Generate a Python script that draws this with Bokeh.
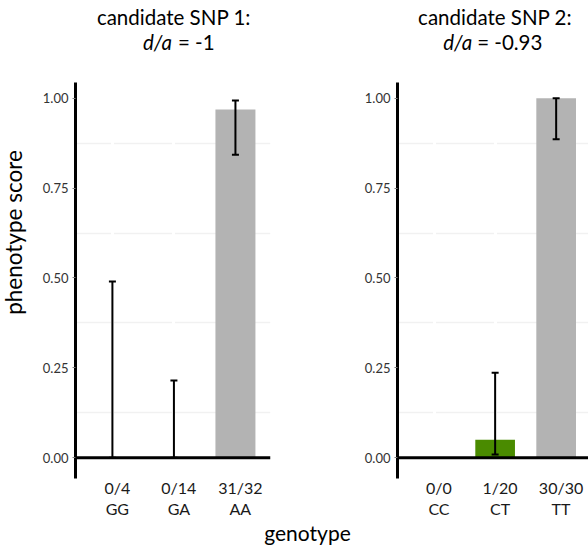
import math
from bokeh.plotting import figure
from bokeh.models import (Range1d, FixedTicker, LinearAxis, Span, Whisker,
                          TeeHead, ColumnDataSource, Grid)
from bokeh.core.properties import value
from bokeh.layouts import row, column
from bokeh.embed import file_html
from bokeh.resources import INLINE

FONT = "Lato"
nan = float("nan")

# ---- data ----
titles = ["candidate SNP 1:", "candidate SNP 2:"]
da_values = ["-1", "-0.93"]

genotypes_1 = ["GG", "GA", "AA"]
counts_1 = ["0/4", "0/14", "31/32"]
score_1 = [0.0, 0.0, 0.969]
lower_1 = [0.0, 0.0, 0.843]
upper_1 = [0.49, 0.215, 0.994]
colors_1 = ["#b3b3b3", "#b3b3b3", "#b3b3b3"]

genotypes_2 = ["CC", "CT", "TT"]
counts_2 = ["0/0", "1/20", "30/30"]
score_2 = [nan, 0.05, 1.0]
lower_2 = [nan, 0.009, 0.886]
upper_2 = [nan, 0.236, 1.0]
colors_2 = ["#b3b3b3", "#4a8b00", "#b3b3b3"]

y_ticks = [0.0, 0.25, 0.5, 0.75, 1.0]
y_tick_labels = ["0.00", "0.25", "0.50", "0.75", "1.00"]
y_minor = [0.125, 0.375, 0.625, 0.875]

x_label = "genotype"
y_label = "phenotype score"

# ---- layout (pixels) ----
TOP_H = 82      # title strip height
PANEL_H = 438   # panel figure height
BOT_H = 26      # bottom strip height
YLAB_W = 30
FRAME_H = 401
LABEL_SHIFT = 0.08
TXT_CORR = 9    # empirical baseline correction for text glyphs


def helper(width, height, x_range=None, left=0, right=0):
    f = figure(width=width, height=height, output_backend="svg", toolbar_location=None,
               title=None,
               x_range=x_range if x_range is not None else Range1d(0, width),
               y_range=Range1d(0, height), x_axis_location=None, y_axis_location=None,
               min_border=0, min_border_left=left, min_border_right=right,
               min_border_top=0, min_border_bottom=0)
    f.outline_line_color = None
    f.grid.visible = False
    return f


def build(title, da, genos, counts, score, lower, upper, colors,
          width, left, right, x_end, da_split):
    n = len(genos)
    xs = [i + 1 for i in range(n)]
    xr = Range1d(0.4, x_end)
    p = figure(width=width, height=PANEL_H, x_range=xr, title=None,
               y_range=Range1d(-0.058, 1.044), output_backend="svg",
               toolbar_location=None, x_axis_location=None,
               min_border_left=left, min_border_right=right,
               min_border_top=0, min_border_bottom=PANEL_H - FRAME_H)
    p.outline_line_color = None
    p.background_fill_color = "white"

    ya = p.yaxis[0]
    ya.ticker = FixedTicker(ticks=y_ticks, minor_ticks=y_minor)
    ya.major_label_overrides = {t: l for t, l in zip(y_ticks, y_tick_labels)}
    ya.axis_line_width = 3
    ya.axis_line_color = "black"
    ya.major_tick_line_color = "#7f7f7f"
    ya.major_tick_out = 3
    ya.major_tick_in = 0
    ya.minor_tick_line_color = None
    ya.major_label_text_font = FONT
    ya.major_label_text_font_size = "13px"
    ya.major_label_text_color = "#333333"
    ya.major_label_standoff = 3

    p.xgrid.visible = False
    p.ygrid.ticker = FixedTicker(ticks=y_ticks, minor_ticks=y_minor)
    p.ygrid.grid_line_color = None
    p.ygrid.minor_grid_line_color = "#f1f1f1"
    p.ygrid.minor_grid_line_width = 1.5
    p.add_layout(Grid(dimension=0, ticker=FixedTicker(ticks=xs),
                      grid_line_color="white", grid_line_width=3))

    tick_pos = [x + LABEL_SHIFT for x in xs]
    for labels in (counts, genos):
        ax = LinearAxis(ticker=FixedTicker(ticks=tick_pos),
                        major_label_overrides={t: l for t, l in zip(tick_pos, labels)},
                        axis_line_color=None, major_tick_line_color=None,
                        major_tick_out=0, major_tick_in=0,
                        minor_tick_line_color=None, minor_tick_out=0, minor_tick_in=0,
                        major_label_standoff=-1,
                        major_label_text_font=FONT,
                        major_label_text_font_size="16px",
                        major_label_text_color="#1a1a1a")
        p.add_layout(ax, "below")

    src = ColumnDataSource(dict(x=xs, score=score, lower=lower, upper=upper, color=colors))
    p.vbar(x="x", top="score", bottom=0, width=0.65, fill_color="color",
           line_color=None, source=src)
    p.add_layout(Whisker(base="x", lower="lower", upper="upper", source=src,
                         line_width=2, line_color="black", level="overlay",
                         upper_head=TeeHead(size=7, line_width=2, line_color="black"),
                         lower_head=TeeHead(size=7, line_width=2, line_color="black")))
    p.add_layout(Span(location=0, dimension="width", line_color="black",
                      line_width=3, level="overlay"))

    # title strip sharing the panel's x range
    t = helper(width, TOP_H, x_range=xr, left=left, right=right)
    mid = xs[n // 2]
    t.text(x=[mid], y=[TOP_H - 25 + TXT_CORR], text=[title], text_align="center",
           text_baseline="alphabetic", text_font=value(FONT),
           text_font_size="20.5px", text_color="black")
    t.text(x=[mid], y=[TOP_H - 50 + TXT_CORR], text=["d/a"], x_offset=da_split[0],
           text_align="right", text_baseline="alphabetic", text_font=value(FONT),
           text_font_style="italic", text_font_size="20.5px", text_color="black")
    t.text(x=[mid], y=[TOP_H - 50 + TXT_CORR], text=["= " + da], x_offset=da_split[1],
           text_align="left", text_baseline="alphabetic", text_font=value(FONT),
           text_font_size="20.5px", text_color="black")
    return column(t, p, spacing=0)


c1 = build(titles[0], da_values[0], genotypes_1, counts_1, score_1, lower_1, upper_1,
           colors_1, width=320, left=45, right=80, x_end=3.57, da_split=(-2, 4))
c2 = build(titles[1], da_values[1], genotypes_2, counts_2, score_2, lower_2, upper_2,
           colors_2, width=238, left=47, right=0, x_end=3.53, da_split=(-23, -18))

ylab = helper(YLAB_W, TOP_H + PANEL_H)
ylab.text(x=[22 - TXT_CORR], y=[TOP_H + PANEL_H - 232], text=[y_label], angle=math.pi / 2,
          text_align="center", text_baseline="middle", text_font=value(FONT),
          text_font_size="22.5px", text_color="black")

bottom = helper(YLAB_W + 320 + 238, BOT_H)
bottom.text(x=[307], y=[5 + TXT_CORR], text=[x_label], text_align="center",
            text_baseline="alphabetic", text_font=value(FONT),
            text_font_size="21px", text_color="black")

layout = column(row(ylab, c1, c2, spacing=0), bottom, spacing=0)
open("out.html", "w").write(file_html(layout, INLINE))
